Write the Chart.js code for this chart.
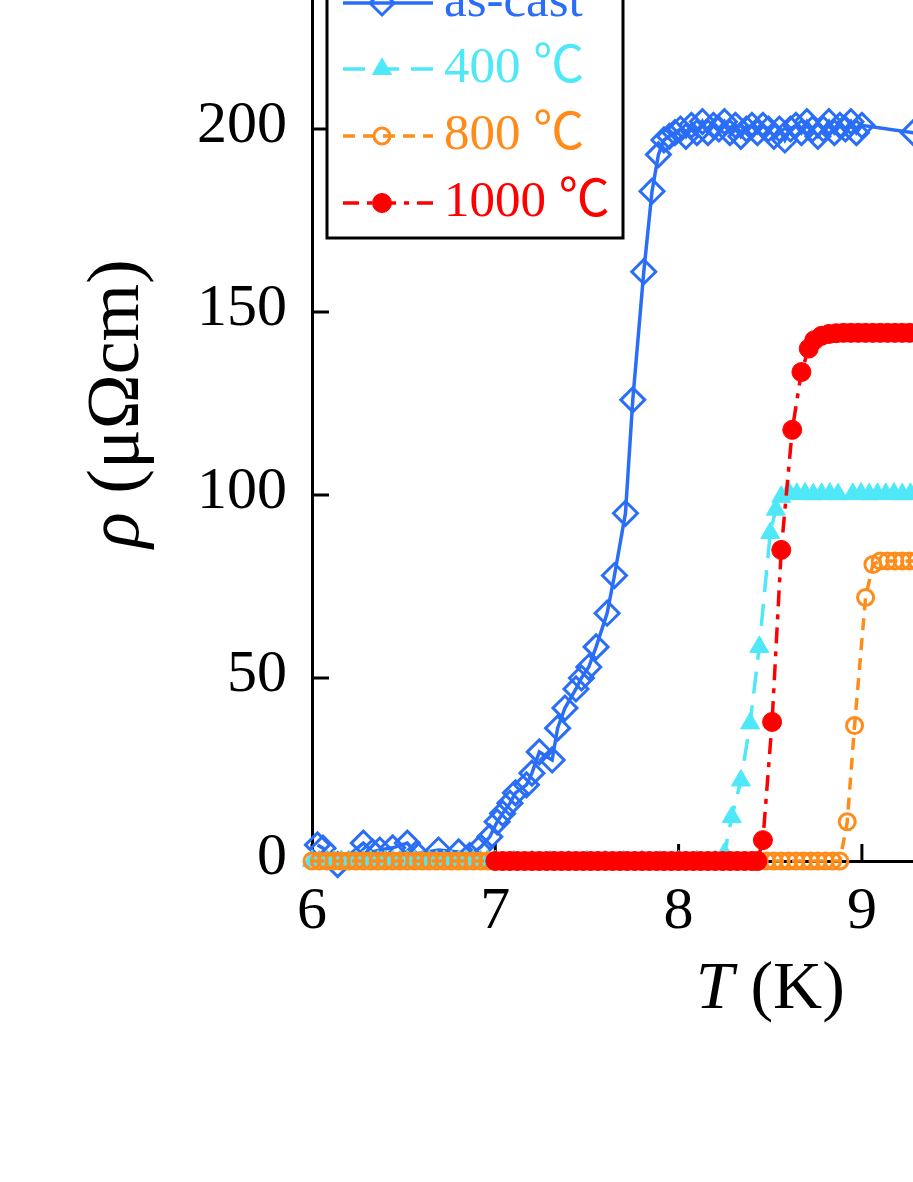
<!DOCTYPE html>
<html><head><meta charset="utf-8">
<script src="https://cdn.jsdelivr.net/npm/chart.js@4.4.1/dist/chart.umd.min.js"></script>
<style>
html,body{margin:0;padding:0;background:#fff;overflow:hidden;width:913px;height:1182px;}
#wrap{position:absolute;left:0;top:-134px;width:1300px;height:1300px;}
</style></head><body>
<div id="wrap"><canvas id="c" width="1300" height="1300"></canvas></div>
<script>
// ---- data ----
const xTicks = [6, 7, 8, 9, 10, 11];
const yTicks = [0, 50, 100, 150, 200, 250];
const seriesNames = ['as-cast', '400 ℃', '800 ℃', '1000 ℃'];
const xTitleSym = 'T', xTitleUnit = ' (K)';
const yTitleSym = 'ρ', yTitleUnit = ' (μΩcm)';

const asCastT = [6.03,6.06,6.14,6.28,6.33,6.37,6.44,6.52,6.57,6.69,
  6.80,6.86,6.92,6.97,7.01,7.04,7.08,7.11,7.17,7.20,
  7.24,7.31,7.34,7.38,7.44,7.47,7.51,7.55,7.61,7.65,
  7.71,7.75,7.81,7.855,7.89,7.92,7.95,7.98,8.01,8.04,
  8.07,8.10,8.13,8.16,8.19,8.22,8.25,8.28,8.31,8.34,
  8.37,8.40,8.43,8.46,8.49,8.52,8.55,8.58,8.61,8.64,
  8.67,8.70,8.73,8.76,8.79,8.82,8.85,8.88,8.91,8.94,
  8.97,9.00,9.28];
const asCastRho = [4.4,3.5,-1,4.9,2.5,3.0,3.6,4.9,2.0,3.0,
  2.5,1.5,3.8,6.6,10.7,13,15.8,18.6,20.8,24,
  29.8,27.6,36.3,41.8,47,50,53,58.5,67.7,78,
  95,126,161,183,193,197,198,199,200,198,
  201,199,202,199,201,200,202,199,201,198,
  200,201,199,201,200,198,200,197,200,201,
  199,202,200,198,200,202,199,201,200,202,
  199,201,199];

const c400T = [6.00,6.04,6.08,6.12,6.16,6.20,6.24,6.28,6.32,6.36,6.40,6.44,6.48,
  6.52,6.56,6.60,6.64,6.68,6.72,6.76,6.80,6.84,6.88,6.92,6.96,7.00,
  7.10,7.20,7.30,7.40,7.50,7.60,7.70,7.80,7.90,8.00,8.10,8.20,
  8.25,8.29,8.34,8.39,8.44,8.50,8.53,8.56,8.60,
  8.645,8.69,8.735,8.78,8.825,8.87,8.95,8.995,9.04,9.085,9.13,9.175,9.22,9.265,9.31];
const c400Rho = [0,0,0,0,0,0,0,0,0,0,0,0,0,
  0,0,0,0,0,0,0,0,0,0,0,0,0,
  0,0,0,0,0,0,0,0,0,0,0,0,
  2,12,22,37.6,58.5,89.6,96,99.5,100.8,
  100.3,100.4,100.2,100.3,100.4,100.2,100.3,100.4,100.2,100.3,100.3,100.4,100.2,100.3,100.3];

const c800T = [6.00,6.04,6.08,6.12,6.16,6.20,6.24,6.28,6.32,6.36,6.40,6.44,6.48,
  6.52,6.56,6.60,6.64,6.68,6.72,6.76,6.80,6.84,6.88,6.92,6.96,7.00,
  7.04,7.08,7.12,7.16,7.20,7.24,7.28,7.32,7.36,7.40,7.44,7.48,7.52,
  7.56,7.60,7.64,7.68,7.72,7.76,7.80,7.84,7.88,7.92,7.96,8.00,8.04,
  8.08,8.12,8.16,8.20,8.24,8.28,8.32,8.36,8.40,8.44,8.48,8.52,8.56,
  8.60,8.64,8.68,8.72,8.76,8.80,8.84,8.88,
  8.92,8.96,9.02,9.06,9.10,9.14,9.18,9.22,9.26,9.30,9.34];
const c800Rho = [0,0,0,0,0,0,0,0,0,0,0,0,0,
  0,0,0,0,0,0,0,0,0,0,0,0,0,
  0,0,0,0,0,0,0,0,0,0,0,0,0,
  0,0,0,0,0,0,0,0,0,0,0,0,0,
  0,0,0,0,0,0,0,0,0,0,0,0,0,
  0,0,0,0,0,0,0,0,
  10.7,37,72,81,82,82,82,82,82,82,82];

const c1000T = [7.00,7.04,7.08,7.12,7.16,7.20,7.24,7.28,7.32,7.36,7.40,7.44,7.48,
  7.52,7.56,7.60,7.64,7.68,7.72,7.76,7.80,7.84,7.88,7.92,7.96,8.00,
  8.04,8.08,8.12,8.16,8.20,8.24,8.28,8.32,8.36,8.40,8.43,
  8.46,8.51,8.56,8.62,8.67,8.71,8.74,8.78,8.82,8.86,8.90,8.94,8.98,
  9.02,9.06,9.10,9.14,9.18,9.22,9.26,9.30,9.34];
const c1000Rho = [0,0,0,0,0,0,0,0,0,0,0,0,0,
  0,0,0,0,0,0,0,0,0,0,0,0,0,
  0,0,0,0,0,0,0,0,0,0,0,
  5.7,38,85,117.8,133.6,140,142.3,143.5,144,144.2,144.3,144.3,144.3,
  144.3,144.3,144.3,144.3,144.3,144.3,144.3,144.3,144.3];

// ---- styles ----
const BLUE = '#2a6ef7', CYAN = '#4ee8f8', ORANGE = '#ff8c1a', RED = '#ff0000';
const NONE = 'rgba(0,0,0,0)';
const SERIF = '"Liberation Serif", "Times New Roman", serif';
const LEGEND_FONT = '"Liberation Serif", "Noto Sans CJK SC", serif';

function pts(T, R) { return T.map((t, i) => ({ x: t, y: R[i] })); }

const styles = [
  { color: BLUE, marker: 'rectRot', r: 12, fill: false, dash: [] },
  { color: CYAN, marker: 'triangle', r: 11, fill: true, dash: [22, 12] },
  { color: ORANGE, marker: 'circle', r: 8, fill: false, dash: [12, 8] },
  { color: RED, marker: 'circle', r: 9.5, fill: true, dash: [16, 8, 5, 8] }
];

function drawMarker(ctx, type, x, y, r, color, fill) {
  ctx.save();
  ctx.beginPath();
  if (type === 'rectRot') {
    ctx.moveTo(x - r, y); ctx.lineTo(x, y - r); ctx.lineTo(x + r, y); ctx.lineTo(x, y + r);
    ctx.closePath();
  } else if (type === 'triangle') {
    let rad = 0;
    ctx.moveTo(x + Math.sin(rad) * r, y - Math.cos(rad) * r);
    rad += 2 * Math.PI / 3;
    ctx.lineTo(x + Math.sin(rad) * r, y - Math.cos(rad) * r);
    rad += 2 * Math.PI / 3;
    ctx.lineTo(x + Math.sin(rad) * r, y - Math.cos(rad) * r);
    ctx.closePath();
  } else {
    ctx.arc(x, y, r, 0, Math.PI * 2);
  }
  ctx.setLineDash([]);
  if (fill) { ctx.fillStyle = color; ctx.fill(); }
  ctx.strokeStyle = color; ctx.lineWidth = fill ? 1 : 3;
  ctx.stroke();
  ctx.restore();
}

const decor = {
  id: 'decor',
  beforeDatasetsDraw(chart) {
    const { ctx, chartArea: a, scales: { x, y } } = chart;
    ctx.save();
    ctx.strokeStyle = '#000'; ctx.lineWidth = 3; ctx.lineCap = 'butt';
    xTicks.forEach(v => {
      const p = x.getPixelForValue(v);
      ctx.beginPath(); ctx.moveTo(p, a.bottom); ctx.lineTo(p, a.bottom - 17); ctx.stroke();
    });
    yTicks.forEach(v => {
      const p = y.getPixelForValue(v);
      ctx.beginPath(); ctx.moveTo(a.left, p); ctx.lineTo(a.left + 17, p); ctx.stroke();
    });
    ctx.beginPath(); ctx.moveTo(a.left, a.top); ctx.lineTo(a.right, a.top); ctx.lineTo(a.right, a.bottom); ctx.stroke();
    ctx.restore();
  },
  afterDraw(chart) {
    const { ctx, chartArea: a } = chart;
    ctx.save();
    ctx.fillStyle = '#000';
    ctx.textBaseline = 'alphabetic'; ctx.textAlign = 'left';
    // x title
    const fI = 'italic 68px ' + SERIF, fN = '68px ' + SERIF;
    ctx.font = fI; const w1 = ctx.measureText(xTitleSym).width;
    ctx.font = fN; const w2 = ctx.measureText(xTitleUnit).width;
    const cx = (a.left + a.right) / 2, by = a.bottom + 147;
    ctx.font = fI; ctx.fillText(xTitleSym, cx - (w1 + w2) / 2, by);
    ctx.font = fN; ctx.fillText(xTitleUnit, cx - (w1 + w2) / 2 + w1, by);
    // y title
    const gI = 'italic 74px ' + SERIF, gN = '74px ' + SERIF;
    ctx.save();
    ctx.translate(a.left - 174, (a.top + a.bottom) / 2);
    ctx.rotate(-Math.PI / 2);
    ctx.font = gI; const v1 = ctx.measureText(yTitleSym).width;
    ctx.font = gN; const v2 = ctx.measureText(yTitleUnit).width;
    ctx.font = gI; ctx.fillText(yTitleSym, -(v1 + v2) / 2, 0);
    ctx.font = gN; ctx.fillText(yTitleUnit, -(v1 + v2) / 2 + v1, 0);
    ctx.restore();
    // legend box
    const bx = a.left + 15, bw = 296, btop = a.top - 26, bbot = a.top + 292;
    ctx.fillStyle = '#fff';
    ctx.fillRect(bx, btop, bw, bbot - btop);
    ctx.strokeStyle = '#000'; ctx.lineWidth = 3;
    ctx.strokeRect(bx, btop, bw, bbot - btop);
    const rowY = [a.top + 57, a.top + 123, a.top + 190, a.top + 257];
    seriesNames.forEach((name, i) => {
      const s = styles[i], yy = rowY[i];
      ctx.save();
      ctx.strokeStyle = s.color; ctx.lineWidth = 3.5;
      ctx.setLineDash(s.dash);
      ctx.beginPath(); ctx.moveTo(a.left + 31, yy); ctx.lineTo(a.left + 121, yy); ctx.stroke();
      ctx.restore();
      drawMarker(ctx, s.marker, a.left + 70, yy, s.r, s.color, s.fill);
      ctx.fillStyle = s.color;
      ctx.font = '51px ' + LEGEND_FONT;
      ctx.textBaseline = 'middle'; ctx.textAlign = 'left';
      ctx.fillText(name, a.left + 132, yy);
    });
    ctx.restore();
  }
};

const mk = (i, T, R, order) => ({
  label: seriesNames[i],
  data: pts(T, R),
  borderColor: styles[i].color,
  backgroundColor: styles[i].fill ? styles[i].color : NONE,
  pointBackgroundColor: styles[i].fill ? styles[i].color : NONE,
  pointBorderColor: styles[i].color,
  pointStyle: styles[i].marker,
  pointRadius: styles[i].r,
  pointBorderWidth: styles[i].fill ? 1 : 3,
  borderWidth: 3.5,
  borderDash: styles[i].dash,
  order: order,
  clip: false,
  tension: 0
});

new Chart(document.getElementById('c'), {
  type: 'line',
  data: {
    datasets: [
      mk(3, c1000T, c1000Rho, 0),
      mk(2, c800T, c800Rho, 1),
      mk(1, c400T, c400Rho, 2),
      mk(0, asCastT, asCastRho, 3)
    ]
  },
  options: {
    responsive: false,
    devicePixelRatio: 1,
    animation: false,
    events: [],
    layout: { padding: { left: 0, right: 71.5, top: 80, bottom: 0 } },
    plugins: { legend: { display: false }, tooltip: { enabled: false } },
    scales: {
      x: {
        type: 'linear', min: 6, max: 11,
        grid: { display: false, drawTicks: false },
        border: { display: true, color: '#000', width: 3 },
        ticks: { stepSize: 1, autoSkip: false, maxRotation: 0, padding: 15, color: '#000',
          font: { family: SERIF, size: 60 } },
        afterFit(s) { s.height = 305; }
      },
      y: {
        type: 'linear', min: 0, max: 250,
        grid: { display: false, drawTicks: false },
        border: { display: true, color: '#000', width: 3 },
        ticks: { stepSize: 50, autoSkip: false, padding: 25, labelOffset: -3, color: '#000',
          font: { family: SERIF, size: 60 } },
        afterFit(s) { s.width = 312; }
      }
    }
  },
  plugins: [decor]
});
</script>
</body></html>
